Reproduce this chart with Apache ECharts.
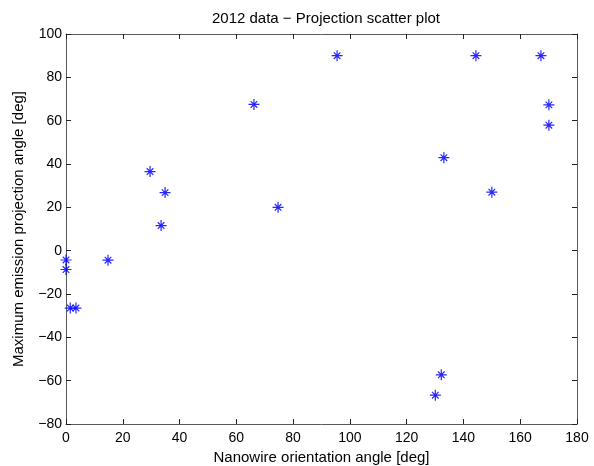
<!DOCTYPE html>
<html>
<head>
<meta charset="utf-8">
<script src="https://cdn.jsdelivr.net/npm/echarts@6/dist/echarts.min.js"></script>
<style>
  html, body { margin: 0; padding: 0; background: #fff; }
  #chart { width: 594px; height: 466px; }
</style>
</head>
<body>
<div id="chart"></div>
<script>
// Nanowire orientation angle (deg) vs. maximum emission projection angle (deg)
const orientation = [0.0, 0.0, 1.5, 3.5, 14.8, 29.6, 33.5, 34.9, 66.2, 74.7, 95.5, 130.1, 132.2, 133.1, 144.4, 150.0, 167.3, 170.1, 170.1];
const projection  = [-4.3, -8.7, -26.5, -26.5, -4.4, 36.5, 11.6, 26.8, 67.5, 20.0, 90.0, -66.7, -57.3, 42.9, 90.0, 27.0, 90.0, 67.3, 57.9];

const xTicks = { min: 0, max: 180, interval: 20 };
const yTicks = { min: -80, max: 100, interval: 20 };

const points = orientation.map((x, i) => [x, projection[i]]);

const FONT = 'Liberation Sans, Arial, sans-serif';
const AXIS_COLOR = '#5a5a5a';

// MATLAB-style asterisk marker: a plus with shorter diagonal arms
const asterisk = 'path://M0,-6L0,6M-6,0L6,0M-3.6,-3.6L3.6,3.6M-3.6,3.6L3.6,-3.6';

// tick labels use a true minus sign
const fmt = v => String(v).replace('-', '\u2212');

function boxAxis(base, position, showLabels, margin) {
  return Object.assign({}, base, {
    position: position,
    axisLine: { show: true, onZero: false, lineStyle: { color: AXIS_COLOR, width: 1 } },
    axisTick: { show: true, inside: true, length: 5, lineStyle: { color: '#222', width: 1 } },
    axisLabel: { show: showLabels, color: '#000', fontFamily: FONT, fontSize: 14, margin: margin, formatter: fmt },
    splitLine: { show: false }
  });
}

const chart = echarts.init(document.getElementById('chart'), null, { renderer: 'canvas' });
chart.setOption({
  animation: false,
  backgroundColor: '#fff',
  title: {
    text: '2012 data \u2212 Projection scatter plot',
    left: 321, top: 6, textAlign: 'center',
    textStyle: { fontFamily: FONT, fontSize: 15, fontWeight: 'normal', color: '#000' }
  },
  grid: { left: 66, right: 17, top: 34, bottom: 42, containLabel: false, outerBoundsMode: 'none' },
  xAxis: [
    Object.assign(boxAxis({ type: 'value', min: xTicks.min, max: xTicks.max, interval: xTicks.interval }, 'bottom', true, 7), {
      name: 'Nanowire orientation angle [deg]',
      nameLocation: 'middle', nameGap: 25,
      nameTextStyle: { fontFamily: FONT, fontSize: 15, color: '#000' }
    }),
    boxAxis({ type: 'value', min: xTicks.min, max: xTicks.max, interval: xTicks.interval }, 'top', false, 3)
  ],
  yAxis: [
    Object.assign(boxAxis({ type: 'value', min: yTicks.min, max: yTicks.max, interval: yTicks.interval }, 'left', true, 4), {
      name: 'Maximum emission projection angle [deg]',
      nameLocation: 'middle', nameGap: 40,
      nameTextStyle: { fontFamily: FONT, fontSize: 15, color: '#000' }
    }),
    boxAxis({ type: 'value', min: yTicks.min, max: yTicks.max, interval: yTicks.interval }, 'right', false, 3)
  ],
  series: [{
    type: 'scatter',
    xAxisIndex: 0, yAxisIndex: 0,
    data: points,
    symbol: asterisk,
    symbolSize: 11,
    itemStyle: { color: 'none', borderColor: '#0000ff', borderWidth: 1.2, opacity: 0.85 }
  }]
});
</script>
</body>
</html>
